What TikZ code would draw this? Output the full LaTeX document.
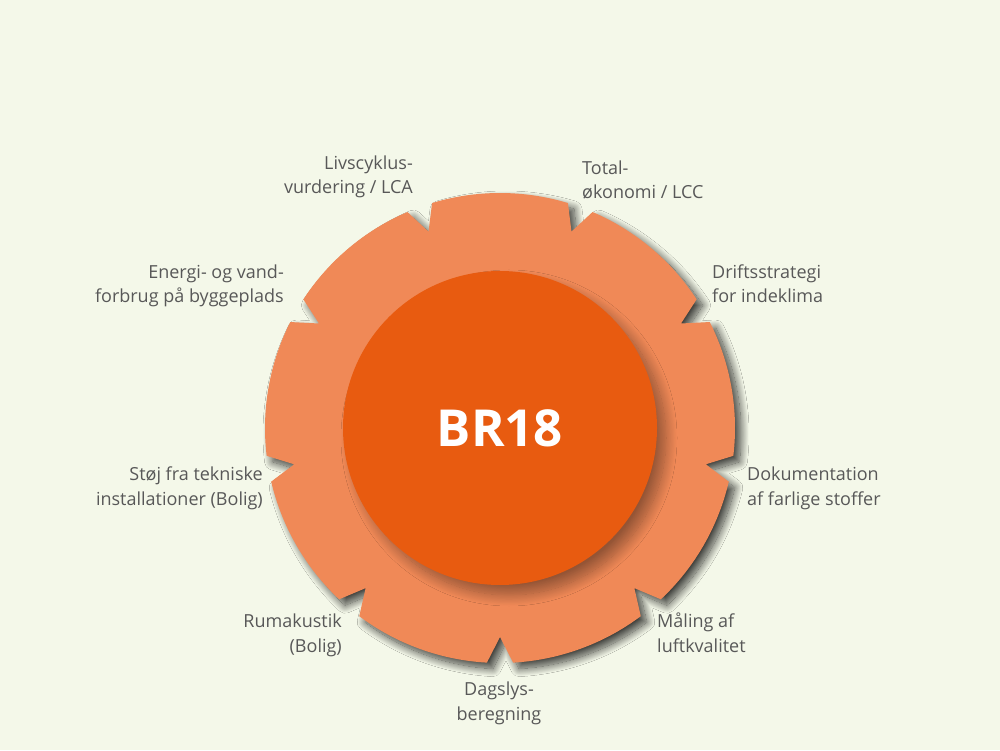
\documentclass[tikz,border=0pt]{standalone}
\usepackage{fontspec}
\setmainfont{Open Sans}
\usetikzlibrary{shadows.blur}
\definecolor{bg}{RGB}{244,248,233}
\definecolor{gearcol}{RGB}{240,137,87}
\definecolor{corecol}{RGB}{232,91,16}
\definecolor{txtcol}{RGB}{88,88,88}
\tikzset{
  lbl/.style={font=\fontsize{18}{24.5}\selectfont, text=txtcol, inner sep=0pt},
  lblL/.style={lbl, align=left, anchor=base west},
  lblR/.style={lbl, align=right, anchor=base east},
  lblC/.style={lbl, align=center, anchor=base},
  gearshadow/.style={blur shadow={shadow xshift=6pt, shadow yshift=-6pt, shadow blur radius=8pt, shadow opacity=75, shadow blur steps=20}},
  coreshadow/.style={blur shadow={shadow xshift=9pt, shadow yshift=-10pt, shadow blur radius=11pt, shadow opacity=38, shadow blur steps=20}}
}
\begin{document}
\begin{tikzpicture}[x=1pt,y=1pt]
\fill[bg] (0,0) rectangle (1000,750);
\useasboundingbox (0,0) rectangle (1000,750);
\begin{scope}[shift={(500,322)}]
  \fill[gearcol, gearshadow] (106.8:235)
    \foreach \k in {0,...,8}{
      arc[start angle={106.8-40*\k}, end angle={73.2-40*\k}, radius=235]
      -- ({70-40*\k}:209) -- ({66.8-40*\k}:235)
    } -- cycle;
  \node[circle, fill=corecol, minimum size=314pt, inner sep=0pt, coreshadow] (core) at (0,0) {};
\end{scope}
\node[font=\fontsize{51}{60}\selectfont\bfseries, text=white, inner sep=0pt] (br) at (core.center) {BR18};
\node[lblR] (lca) at (413,556) {Livscyklus-\\vurdering / LCA};
\node[lblL] (lcc) at (582,551) {Total-\\økonomi / LCC};
\node[lblR] (energi) at (284,447) {Energi- og vand-\\forbrug på byggeplads};
\node[lblL] (drift) at (712,447) {Driftsstrategi\\for indeklima};
\node[lblR] (stoej) at (263,245) {Støj fra tekniske\\installationer (Bolig)};
\node[lblL] (dok) at (747,245) {Dokumentation\\af farlige stoffer};
\node[lblR] (rum) at (342,98) {Rumakustik\\(Bolig)};
\node[lblL] (maal) at (657,98) {Måling af\\luftkvalitet};
\node[lblC] (dag) at (499,30) {Dagslys-\\beregning};
\end{tikzpicture}
\end{document}
